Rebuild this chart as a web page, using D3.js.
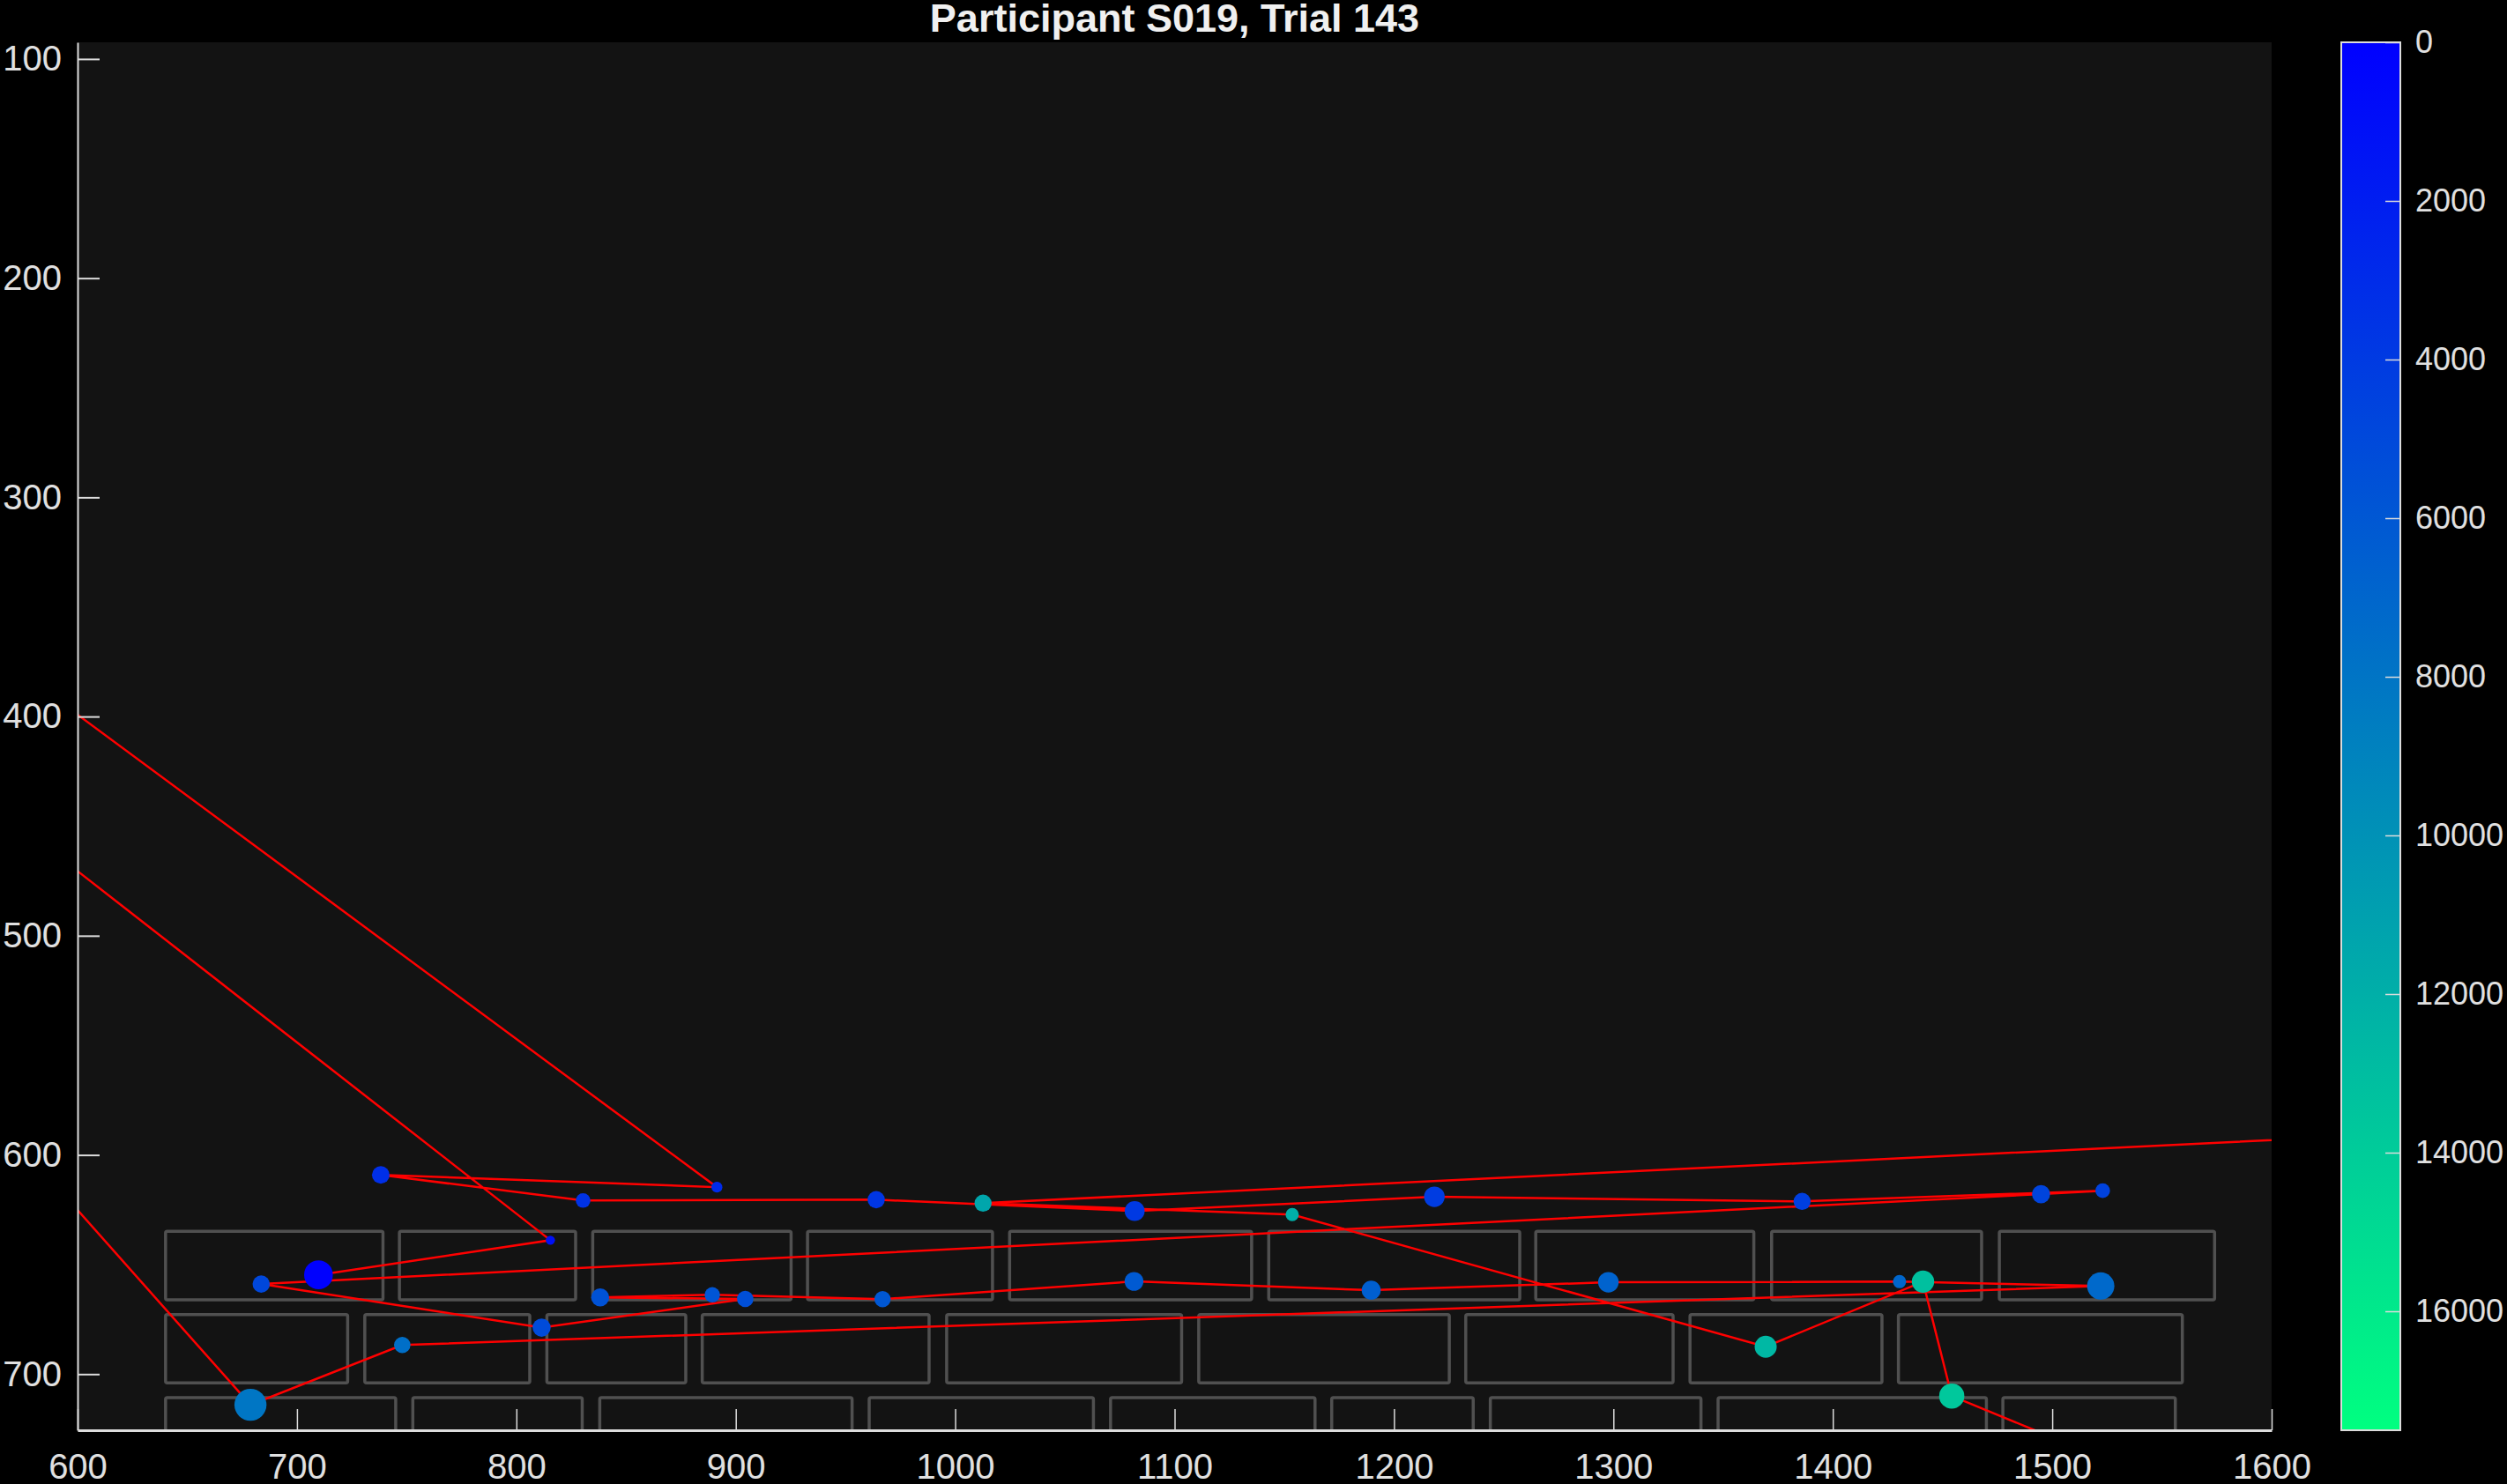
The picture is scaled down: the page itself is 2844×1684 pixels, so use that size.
<!DOCTYPE html>
<html>
<head>
<meta charset="utf-8">
<script src="https://cdn.jsdelivr.net/npm/d3@7"></script>
<style>
  html, body { margin: 0; padding: 0; background: #000; }
  svg { display: block; }
  .axis text { font-family: "Liberation Sans", Arial, sans-serif; fill: #e0e0e0; }
  .axis line, .axis path { stroke: #dcdcdc; }
</style>
</head>
<body>
<div id="chart"></div>
<script>
// scanpath, in fixation order (null = track loss)
var fixX    = [709.8, 815.5, 520, 520, 891.4, 738.2, 830.4, 964.0, 1081.8, 1218.4, 1386.0, 1523.0, 1494.9,
               683.7, 811.5, 904.3, 838.2, 889.3, 966.9, 1081.5, 1189.6, 1297.7, 1430.4, 1522.1, 748.0, 678.8,
               520, null, 1700, 1012.7, 1153.6, 1369.4, 1441.1, 1454.2, 1600];
var fixY    = [654.7, 638.9, 408, 340, 614.7, 609.1, 620.8, 620.4, 625.6, 619.1, 621.2, 616.3, 617.9,
               658.9, 678.8, 665.7, 665.0, 663.8, 665.8, 657.7, 661.7, 658.1, 657.8, 659.8, 686.7, 714.0,
               535, null, 588.3, 622.0, 627.2, 687.5, 657.8, 710.0, 770];
var fixTime = [100, 1100, 1700, 2300, 2900, 3200, 3450, 3700, 3900, 4100, 4300, 4500, 4700,
               4900, 5150, 5400, 5600, 5800, 6000, 6200, 6500, 6800, 7000, 7200, 7600, 8100,
               9000, null, 11000, 11400, 12000, 12600, 13200, 13700, 14500];
var fixDur  = [664, 68, 250, 250, 96, 250, 172, 240, 319, 342, 235, 172, 265,
               240, 265, 216, 260, 189, 212, 286, 292, 342, 141, 600, 216, 828,
               250, null, 250, 235, 141, 390, 403, 511, 250];

// word boxes (three rows)
var boxLeft   = [640.1, 746.7, 834.8, 932.7, 1024.8, 1142.9, 1264.6, 1372.1, 1475.9,
                 640.1, 730.9, 813.9, 884.7, 996.1, 1111.0, 1232.7, 1334.9, 1429.9,
                 640.1, 752.8, 838.0, 960.8, 1070.8, 1171.6, 1243.9, 1347.7, 1477.5];
var boxRight  = [739.2, 827.0, 925.2, 1017.0, 1135.1, 1257.3, 1364.0, 1467.8, 1574.0,
                 723.1, 806.1, 877.2, 988.1, 1103.2, 1225.2, 1327.2, 1422.4, 1559.3,
                 745.0, 830.0, 953.0, 1063.0, 1164.0, 1236.1, 1339.9, 1470.0, 1556.1];
var rowTop    = [634.8, 672.8, 710.7];
var rowBottom = [666.1, 704.0, 742.0];

var xTicks  = [600, 700, 800, 900, 1000, 1100, 1200, 1300, 1400, 1500, 1600];
var yTicks  = [100, 200, 300, 400, 500, 600, 700];
var cbTicks = [0, 2000, 4000, 6000, 8000, 10000, 12000, 14000, 16000];
var cbMax = 17500;

var title = "Participant S019, Trial 143";

var W = 2844, H = 1684,
    plotLeft = 88, plotRight = 2577, plotTop = 48, plotBottom = 1623,
    cbLeft = 2656, cbRight = 2723;

var svg = d3.select("#chart").append("svg")
  .attr("width", W)
  .attr("height", H);

svg.append("rect")
  .attr("width", W).attr("height", H)
  .attr("fill", "#000");

var x = d3.scaleLinear().domain([600, 1600]).range([plotLeft, plotRight]);
var y = d3.scaleLinear().domain([92.4, 725.6]).range([plotTop, plotBottom]);
var r = d3.scaleSqrt().domain([0, 250]).range([0, 10]);
var color = d3.scaleLinear().domain([0, cbMax]).range(["#0000ff", "#00ff80"])
  .interpolate(d3.interpolateRgb);

svg.append("rect")
  .attr("x", plotLeft).attr("y", plotTop)
  .attr("width", plotRight - plotLeft).attr("height", plotBottom - plotTop)
  .attr("fill", "#131313");

svg.append("clipPath").attr("id", "plotclip")
  .append("rect")
  .attr("x", plotLeft).attr("y", plotTop)
  .attr("width", plotRight - plotLeft).attr("height", plotBottom - plotTop);

var plot = svg.append("g").attr("clip-path", "url(#plotclip)");

// boxes
var boxes = boxLeft.map(function (d, i) {
  var row = Math.floor(i / 9);
  return { x0: d, x1: boxRight[i], y0: rowTop[row], y1: rowBottom[row] };
});

plot.selectAll("rect.box")
  .data(boxes)
  .enter().append("rect")
    .attr("class", "box")
    .attr("x", function (d) { return x(d.x0); })
    .attr("y", function (d) { return y(d.y0); })
    .attr("width", function (d) { return x(d.x1) - x(d.x0); })
    .attr("height", function (d) { return y(d.y1) - y(d.y0); })
    .attr("rx", 2)
    .attr("fill", "none")
    .attr("stroke", "#505050")
    .attr("stroke-width", 3.5);

var fix = fixX.map(function (d, i) {
  return { x: d, y: fixY[i], t: fixTime[i], dur: fixDur[i] };
});

var line = d3.line()
  .defined(function (d) { return d.x != null; })
  .x(function (d) { return x(d.x); })
  .y(function (d) { return y(d.y); });

plot.append("path")
  .datum(fix)
  .attr("d", line)
  .attr("fill", "none")
  .attr("stroke", "#ff0000")
  .attr("stroke-width", 2.5);

plot.selectAll("circle.fix")
  .data(fix.filter(function (d) { return d.x != null; }))
  .enter().append("circle")
    .attr("class", "fix")
    .attr("cx", function (d) { return x(d.x); })
    .attr("cy", function (d) { return y(d.y); })
    .attr("r", function (d) { return r(d.dur); })
    .attr("fill", function (d) { return color(d.t); });

// axes
var xAxis = svg.append("g")
  .attr("class", "axis")
  .attr("transform", "translate(0," + plotBottom + ")")
  .call(d3.axisBottom(x).tickValues(xTicks).tickFormat(d3.format("d"))
    .tickSizeInner(-24).tickSizeOuter(0).tickPadding(27));
xAxis.select(".domain").attr("stroke-width", 3);
xAxis.selectAll("line").attr("stroke-width", 1.5);
xAxis.selectAll("text").style("font-size", "40px");

var yAxis = svg.append("g")
  .attr("class", "axis")
  .attr("transform", "translate(" + plotLeft + ",0)")
  .call(d3.axisLeft(y).tickValues(yTicks).tickFormat(d3.format("d"))
    .tickSizeInner(-25).tickSizeOuter(0).tickPadding(18));
yAxis.select(".domain").attr("stroke-width", 2);
yAxis.selectAll("line").attr("stroke-width", 2);
yAxis.selectAll("text").style("font-size", "40px");

// colorbar
var cb = d3.scaleLinear().domain([0, cbMax]).range([plotTop, plotBottom]);

var grad = svg.append("defs").append("linearGradient")
  .attr("id", "winter")
  .attr("x1", 0).attr("y1", 0).attr("x2", 0).attr("y2", 1);
grad.append("stop").attr("offset", "0%").attr("stop-color", color(0));
grad.append("stop").attr("offset", "100%").attr("stop-color", color(cbMax));

svg.append("rect")
  .attr("x", cbLeft).attr("y", plotTop)
  .attr("width", cbRight - cbLeft).attr("height", plotBottom - plotTop)
  .attr("fill", "url(#winter)")
  .attr("stroke", "#dcdcdc")
  .attr("stroke-width", 2);

var cbAxis = svg.append("g")
  .attr("class", "axis")
  .attr("transform", "translate(" + cbRight + ",0)")
  .call(d3.axisRight(cb).tickValues(cbTicks).tickFormat(d3.format("d"))
    .tickSizeInner(-17).tickSizeOuter(0).tickPadding(17));
cbAxis.select(".domain").remove();
cbAxis.selectAll("line").attr("stroke-width", 1.5);
cbAxis.selectAll("text").style("font-size", "36px");

svg.append("text")
  .attr("x", (plotLeft + plotRight) / 2)
  .attr("y", 36)
  .attr("text-anchor", "middle")
  .attr("font-family", "'Liberation Sans', Arial, sans-serif")
  .attr("font-weight", "bold")
  .attr("font-size", "45px")
  .attr("fill", "#f0f0f0")
  .text(title);
</script>
</body>
</html>
